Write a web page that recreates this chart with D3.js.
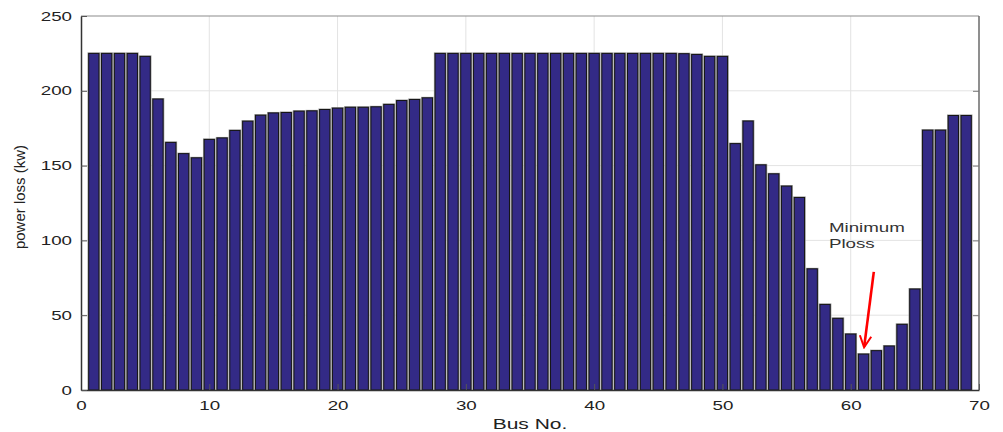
<!DOCTYPE html>
<html>
<head>
<meta charset="utf-8">
<script src="https://cdn.jsdelivr.net/npm/d3@7/dist/d3.min.js"></script>
<style>
  body { margin: 0; background: #fff; }
  svg { display: block; font-family: "Liberation Sans", Arial, sans-serif; }
</style>
</head>
<body>
<svg></svg>
<script>
// chart data

var buses = [1, 2, 3, 4, 5, 6, 7, 8, 9, 10,
  11, 12, 13, 14, 15, 16, 17, 18, 19, 20,
  21, 22, 23, 24, 25, 26, 27, 28, 29, 30,
  31, 32, 33, 34, 35, 36, 37, 38, 39, 40,
  41, 42, 43, 44, 45, 46, 47, 48, 49, 50,
  51, 52, 53, 54, 55, 56, 57, 58, 59, 60,
  61, 62, 63, 64, 65, 66, 67, 68, 69]

var loss = [225, 225, 225, 225, 223, 194.5, 165.5, 158, 155.2, 167.5,
  168.5, 173.5, 179.7, 183.7, 185.2, 185.5, 186.4, 186.6, 187.5, 188.4,
  189, 189, 189.3, 190.9, 193.5, 194.2, 195.3, 225, 225, 225,
  225, 225, 225, 225, 225, 225, 225, 225, 225, 225,
  225, 225, 225, 225, 225, 225, 224.8, 224.3, 223, 223,
  164.7, 179.8, 150.5, 144.5, 136.3, 128.7, 81, 57.2, 47.9, 37.4,
  24, 26.3, 29.4, 43.9, 67.5, 173.7, 173.7, 183.5, 183.5]

var xTicks = [0, 10, 20, 30, 40, 50, 60, 70]
var yTicks = [0, 50, 100, 150, 200, 250]

var noteLines = ['Minimum', 'Ploss']
// annotation anchors in data units (bus, kW)
var noteAt = [58.3, 105.3]
var arrowFrom = [61.8, 79]
var arrowTo = [61.05, 29]

// -----------------

var w = 1003
var h = 432
var m = { top: 16, right: 24, bottom: 42, left: 81 }
var stretch = 1.5 // the source picture is wider than tall, text looks stretched

var svg = d3.select('svg')
    .attr('width', w)
    .attr('height', h)

var x = d3.scaleLinear().domain([0, 70]).range([m.left, w - m.right])
var y = d3.scaleLinear().domain([0, 250]).range([h - m.bottom, m.top])

var bw = (x(1) - x(0)) * 0.8

// grid
svg.append('g')
  .selectAll('line')
  .data(xTicks.slice(1, -1))
  .enter().append('line')
  .attr('x1', function (d) { return x(d) })
  .attr('x2', function (d) { return x(d) })
  .attr('y1', y(0))
  .attr('y2', y(250))
  .attr('stroke', '#e3e3e3')

svg.append('g')
  .selectAll('line')
  .data(yTicks.slice(1, -1))
  .enter().append('line')
  .attr('y1', function (d) { return y(d) })
  .attr('y2', function (d) { return y(d) })
  .attr('x1', x(0))
  .attr('x2', x(70))
  .attr('stroke', '#e3e3e3')

// bars: soft gray halo, then the dark bar
var gb = svg.append('g')

gb.selectAll('rect.halo')
  .data(buses)
  .enter().append('rect')
  .classed('halo', true)
  .attr('x', function (d) { return x(d) - bw / 2 - 1.2 })
  .attr('width', bw + 2.4)
  .attr('y', function (d, i) { return y(loss[i]) - 1 })
  .attr('height', function (d, i) { return y(0) - y(loss[i]) + 1 })
  .attr('fill', '#9a9a9a')

gb.selectAll('rect.bar')
  .data(buses)
  .enter().append('rect')
  .classed('bar', true)
  .attr('x', function (d) { return x(d) - bw / 2 })
  .attr('width', bw)
  .attr('y', function (d, i) { return y(loss[i]) })
  .attr('height', function (d, i) { return y(0) - y(loss[i]) })
  .attr('fill', '#332a86')
  .attr('stroke', '#151515')
  .attr('stroke-width', 1)

// box
svg.append('line')
  .attr('x1', x(0)).attr('x2', x(70)).attr('y1', y(250)).attr('y2', y(250))
  .attr('stroke', '#8c8c8c').attr('stroke-width', 1.2)
svg.append('line')
  .attr('x1', x(70)).attr('x2', x(70)).attr('y1', y(250)).attr('y2', y(0))
  .attr('stroke', '#6a6a6a').attr('stroke-width', 1.5)

// axes (inward ticks)
var xAxis = svg.append('g')
  .attr('transform', 'translate(0,' + y(0) + ')')
  .call(d3.axisBottom(x).tickValues(xTicks).tickSize(-6).tickPadding(11).tickSizeOuter(0))
xAxis.select('.domain').attr('stroke', '#333').attr('stroke-width', 1.5)
xAxis.selectAll('.tick line').attr('stroke', '#555')
xAxis.selectAll('text')
  .attr('transform', 'scale(' + stretch + ',1)')
  .style('font-size', '12.5px')
  .attr('fill', '#222')

var yAxis = svg.append('g')
  .attr('transform', 'translate(' + x(0) + ',0)')
  .call(d3.axisLeft(y).tickValues(yTicks).tickSize(-6).tickFormat(d3.format('d')).tickSizeOuter(0))
yAxis.select('.domain').attr('stroke', '#333').attr('stroke-width', 1.5)
yAxis.selectAll('.tick line').attr('stroke', '#555')
yAxis.selectAll('text')
  .attr('x', -9 / stretch)
  .attr('transform', 'scale(' + stretch + ',1)')
  .style('font-size', '12.5px')
  .attr('fill', '#222')

var yRight = svg.append('g')
  .attr('transform', 'translate(' + x(70) + ',0)')
  .call(d3.axisRight(y).tickValues(yTicks.slice(1, -1)).tickSize(-6).tickFormat(''))
yRight.select('.domain').remove()
yRight.selectAll('.tick line').attr('stroke', '#777')

// titles
svg.append('text')
  .text('Bus No.')
  .attr('transform', 'translate(' + ((x(0) + x(70)) / 2) + ',' + (h - 3) + ') scale(' + stretch + ',1)')
  .attr('text-anchor', 'middle')
  .style('font-size', '14px')
  .attr('fill', '#222')

svg.append('text')
  .text('power loss (kw)')
  .attr('transform', 'translate(25,' + ((y(0) + y(250)) / 2 - 6) + ') rotate(-90)')
  .attr('text-anchor', 'middle')
  .style('font-family', '"Liberation Sans Narrow", "Liberation Sans", Arial, sans-serif')
  .style('font-size', '15px')
  .attr('fill', '#222')

// annotation
var note = svg.append('text')
  .attr('transform', 'translate(' + x(noteAt[0]) + ',' + y(noteAt[1]) + ') scale(' + stretch + ',1)')
  .style('font-size', '12.5px')
  .attr('fill', '#333')

note.selectAll('tspan')
  .data(noteLines)
  .enter().append('tspan')
  .attr('x', 0)
  .attr('dy', function (d, i) { return i ? 16 : 0 })
  .text(function (d) { return d })

svg.append('defs').append('marker')
  .attr('id', 'head')
  .attr('viewBox', '0 0 10 10')
  .attr('refX', 8.5).attr('refY', 5)
  .attr('markerWidth', 5.5).attr('markerHeight', 5.5)
  .attr('orient', 'auto')
  .append('path')
  .attr('d', 'M1,1 L9,5 L1,9')
  .attr('fill', 'none')
  .attr('stroke', '#f00')
  .attr('stroke-width', 1.4)

svg.append('line')
  .attr('x1', x(arrowFrom[0])).attr('y1', y(arrowFrom[1]))
  .attr('x2', x(arrowTo[0])).attr('y2', y(arrowTo[1]))
  .attr('stroke', '#f00')
  .attr('stroke-width', 2.6)
  .attr('marker-end', 'url(#head)')
</script>
</body>
</html>
